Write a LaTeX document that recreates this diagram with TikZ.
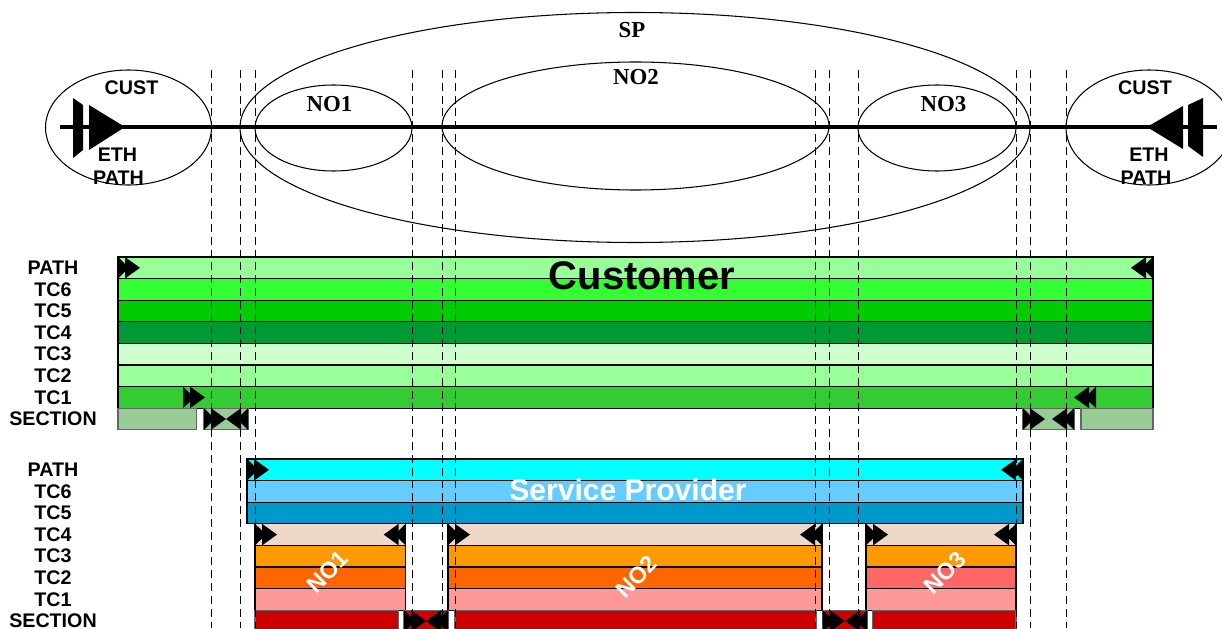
\documentclass[tikz,border=0pt]{standalone}
\usepackage{fontspec}
\setmainfont{Liberation Sans}
\newfontfamily\tms{Liberation Serif}

\definecolor{custPath}{HTML}{99FF99}
\definecolor{custTCsix}{HTML}{33FF33}
\definecolor{custTCfive}{HTML}{00CC00}
\definecolor{custTCfour}{HTML}{009933}
\definecolor{custTCthree}{HTML}{CCFFCC}
\definecolor{custTCtwo}{HTML}{99FF99}
\definecolor{custTCone}{HTML}{33CC33}
\definecolor{custSec}{HTML}{99CC99}
\definecolor{spPath}{HTML}{00FFFF}
\definecolor{spTCsix}{HTML}{66CCFF}
\definecolor{spTCfive}{HTML}{0099CC}
\definecolor{noTCfour}{HTML}{F0D8C8}
\definecolor{noTCthree}{HTML}{FF9900}
\definecolor{noTCtwo}{HTML}{FF6600}
\definecolor{noTCtwoB}{HTML}{FF6666}
\definecolor{noTCone}{HTML}{FF9999}
\definecolor{noSec}{HTML}{CC0000}

\begin{document}
\begin{tikzpicture}[x=0.02cm, y=-0.02cm,
  bar/.style={draw=black, line width=0.6pt},
  secbox/.style={draw=black!60, line width=0.6pt},
  guide/.style={dash pattern=on 4.5pt off 2.8pt, line width=0.5pt},
  rowlbl/.style={font=\fontsize{11.2}{11.2}\selectfont\bfseries},
  serlbl/.style={font=\tms\fontsize{13}{13}\selectfont\bfseries},
  rotlbl/.style={text=white, rotate=45, font=\fontsize{13.3}{13.3}\selectfont\bfseries}]

\useasboundingbox (0,0) rectangle (1222,628);
\clip (0,0) rectangle (1222,628);

% --- Domini (ellissi) ---
\draw[line width=0.6pt] (128.5,127.5) ellipse [x radius=83, y radius=57.5];
\draw[line width=0.6pt] (1149,127.5) ellipse [x radius=83, y radius=57.5];
\draw[line width=0.6pt] (635,127.5) ellipse [x radius=395, y radius=115];
\draw[line width=0.6pt] (333.5,128) ellipse [x radius=78.5, y radius=43];
\draw[line width=0.6pt] (635.5,126) ellipse [x radius=193.5, y radius=64];
\draw[line width=0.6pt] (937,128) ellipse [x radius=79, y radius=43];

% --- Linea del percorso ---
\draw[line width=2pt] (60,127) -- (1217,127);

% --- Simboli di terminazione ---
\fill (73,98) -- (83,105) -- (83,150) -- (73,158) -- cycle;
\fill (89,105) -- (125,127) -- (89,150) -- cycle;
\fill (1203,98) -- (1188,105) -- (1188,146) -- (1203,157) -- cycle;
\fill (1183,106) -- (1147,127) -- (1183,149) -- cycle;

% --- Etichette in alto ---
\node[serlbl] (sp) at (632,30) {SP};
\node[serlbl] (noa) at (329.5,104) {NO1};
\node[serlbl] (nob) at (636,77) {NO2};
\node[serlbl] (noc) at (943.5,104) {NO3};
\node[rowlbl] (custl) at (131.5,88) {CUST};
\node[rowlbl] (ethl) at (117.5,155) {ETH};
\node[rowlbl] (pathl) at (118.5,178) {PATH};
\node[rowlbl] (custr) at (1145,88) {CUST};
\node[rowlbl] (ethr) at (1149,155) {ETH};
\node[rowlbl] (pathr) at (1146,178) {PATH};

% --- Livelli del cliente ---
\foreach \c [count=\i from 0] in {custPath,custTCsix,custTCfive,custTCfour,custTCthree,custTCtwo,custTCone}{
    \draw[bar, fill=\c] (118,{257+21.6*\i}) rectangle (1153,{278.6+21.6*\i});
}
\foreach \a/\b in {118/196.7, 204/248, 1023/1074, 1081/1153}{
    \draw[secbox, fill=custSec] (\a,408.2) rectangle (\b,429.8);
}

% --- Livelli del fornitore ---
\foreach \c [count=\i from 0] in {spPath,spTCsix,spTCfive}{
    \draw[bar, fill=\c] (247,{459+21.6*\i}) rectangle (1023,{480.6+21.6*\i});
}
\foreach \a/\b/\cc in {255/405.7/noTCtwo, 448/822/noTCtwo, 866/1016/noTCtwoB}{
    \draw[bar, fill=noTCfour] (\a,523.8) rectangle (\b,545.4);
    \draw[bar, fill=noTCthree] (\a,545.4) rectangle (\b,567);
    \draw[bar, fill=\cc] (\a,567) rectangle (\b,588.6);
    \draw[bar, fill=noTCone] (\a,588.6) rectangle (\b,610.2);
}
\foreach \a/\b in {255/398.3, 404/448, 455/816, 822.7/867, 872.7/1016}{
    \draw[secbox, fill=noSec] (\a,610.2) rectangle (\b,631.8);
}

% --- Punti di terminazione (verso destra) ---
\foreach \x/\y in {118/257, 183/386.6, 204/408.2, 1023/408.2, 247/459,
                   255/523.8, 448/523.8, 866/523.8, 404/610.2, 822.7/610.2}{
    \fill (\x,\y) -- (\x+11,\y+10.8) -- (\x,\y+21.6) -- cycle;
    \fill (\x+7,\y) -- (\x+22,\y+10.8) -- (\x+7,\y+21.6) -- cycle;
}

% --- Punti di terminazione (verso sinistra) ---
\foreach \x/\y in {1153/257, 1096/386.6, 248/408.2, 1074/408.2, 1023/459,
                   405.7/523.8, 822/523.8, 1016/523.8, 448/610.2, 867/610.2}{
    \fill (\x,\y) -- (\x-11,\y+10.8) -- (\x,\y+21.6) -- cycle;
    \fill (\x-7,\y) -- (\x-22,\y+10.8) -- (\x-7,\y+21.6) -- cycle;
}

% --- Nomi dei livelli ---
\foreach \t [count=\i from 0] in {PATH,TC6,TC5,TC4,TC3,TC2,TC1,SECTION}{
    \node[rowlbl] (cl\i) at (53,{267.8+21.6*\i}) {\t};
    \node[rowlbl] (sl\i) at (53,{469.8+21.6*\i}) {\t};
}

% --- Scritte sulle barre ---
\node[font=\fontsize{22.7}{22.7}\selectfont\bfseries] (cust) at (642,276) {Customer};
\node[text=white, font=\fontsize{17.1}{17.1}\selectfont\bfseries] (sprov) at (628,490) {Service Provider};
\node[rotlbl] (rna) at (327.5,571.5) {NO1};
\node[rotlbl] (rnb) at (636.5,576.7) {NO2};
\node[rotlbl] (rnc) at (945,572.5) {NO3};

% --- Linee guida tratteggiate ---
\foreach \x in {211,240,255,412,442,455,815,829,858,1016,1030,1066}{
    \draw[guide] (\x,70) -- (\x,628);
}

\end{tikzpicture}
\end{document}
